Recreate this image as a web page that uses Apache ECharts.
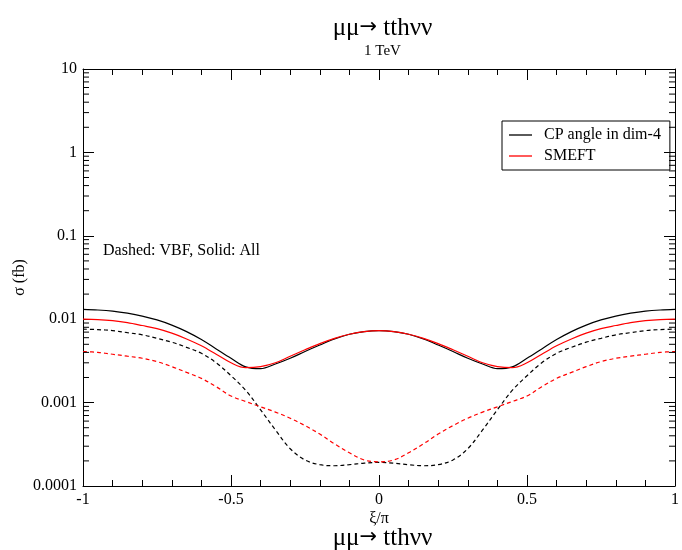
<!DOCTYPE html>
<html>
<head>
<meta charset="utf-8">
<script src="https://cdn.jsdelivr.net/npm/echarts@6/dist/echarts.min.js"></script>
<style>html,body{margin:0;padding:0;background:#fff}#c{width:682px;height:550px}</style>
</head>
<body>
<div id="c"></div>
<script>
const xi = [-1,-0.95,-0.9,-0.85,-0.8,-0.75,-0.7,-0.65,-0.6,-0.55,-0.5,-0.45,-0.4,-0.35,-0.3,-0.25,-0.2,-0.15,-0.1,-0.05,0,
  0.05,0.1,0.15,0.2,0.25,0.3,0.35,0.4,0.45,0.5,0.55,0.6,0.65,0.7,0.75,0.8,0.85,0.9,0.95,1];
const cpAll = [0.0131,0.0129,0.0125,0.0118,0.0109,0.0098,0.0085,0.0071,0.0057,0.0044,0.0034,0.00268,0.00255,0.0029,0.0034,0.0041,0.0049,0.0058,0.0066,0.0071,0.0073,
  0.0071,0.0066,0.0058,0.0049,0.0041,0.0034,0.0029,0.00255,0.00268,0.0034,0.0044,0.0057,0.0071,0.0085,0.0098,0.0109,0.0118,0.0125,0.0129,0.0131];
const smeftAll = [0.0100,0.0099,0.0096,0.0091,0.0084,0.0077,0.0068,0.0058,0.0048,0.0038,0.0030,0.00262,0.0027,0.0030,0.0036,0.0043,0.0051,0.0059,0.0066,0.0071,0.0073,
  0.0071,0.0066,0.0059,0.0051,0.0043,0.0036,0.0030,0.0027,0.00262,0.0030,0.0038,0.0048,0.0058,0.0068,0.0077,0.0084,0.0091,0.0096,0.0099,0.0100];
const cpVBF = [0.0076,0.0075,0.0073,0.0069,0.0065,0.0059,0.0053,0.0046,0.0039,0.0030,0.0021,0.0014,0.00082,0.00047,0.00028,0.000205,0.00018,0.000175,0.00018,0.000188,0.000192,
  0.000188,0.00018,0.000175,0.00018,0.000205,0.00028,0.00047,0.00082,0.0014,0.0021,0.0030,0.0039,0.0046,0.0053,0.0059,0.0065,0.0069,0.0073,0.0075,0.0076];
const smeftVBF = [0.0041,0.0040,0.0038,0.0036,0.0034,0.0031,0.0027,0.0023,0.00195,0.00155,0.00120,0.00103,0.00089,0.00077,0.00065,0.00053,0.00042,0.00032,0.00025,0.000205,0.000195,
  0.000205,0.00025,0.00032,0.00042,0.00053,0.00065,0.00077,0.00089,0.00103,0.00120,0.00155,0.00195,0.0023,0.0027,0.0031,0.0034,0.0036,0.0038,0.0040,0.0041];
const yTickLabels = ['0.0001','0.001','0.01','0.1','1','10'];
const xTickLabels = {'-1':'-1','-0.5':'-0.5','0':'0','0.5':'0.5','1':'1'};
const seriesNames = ['CP angle in dim-4','SMEFT'];
const titleParts = ['μμ', '→', ' tthνν'];
const subtitleText = '1 TeV';
const noteText = 'Dashed: VBF, Solid: All';

const FONT = 'Liberation Serif';
const pairs = v => xi.map((x,i)=>[x, v[i]]);
const minorVals = [];
for (let k=-4;k<=0;k++) for (let m=2;m<=9;m++) minorVals.push(+(m*Math.pow(10,k)).toPrecision(3));

const chart = echarts.init(document.getElementById('c'));
const lineSeries = (name, data, color, dashed) => ({
  name, type:'line', data: pairs(data), symbol:'none', smooth:0.35,
  lineStyle:{color, width:1.2, type: dashed ? [4,3] : 'solid'}, itemStyle:{color},
  xAxisIndex:0, yAxisIndex:0, z:3
});
const titleRich = {
  a:{fontFamily:FONT, fontSize:25, color:'#000', lineHeight:28},
  b:{fontFamily:'DejaVu Sans', fontSize:21, color:'#000', lineHeight:28}
};
const titleStr = `{a|${titleParts[0]}}{b|${titleParts[1]}}{a|${titleParts[2]}}`;
const titleEl = y => ({type:'text', x:382.5, y, style:{text:titleStr, rich:titleRich, align:'center', verticalAlign:'middle'}});
chart.setOption({
  animation:false,
  backgroundColor:'#fff',
  legend:{
    data:seriesNames, orient:'vertical', left:502, top:121, icon:'rect',
    borderColor:'#000', borderWidth:1, padding:[6,9,6,7], itemGap:5,
    itemWidth:23, itemHeight:1.3,
    textStyle:{fontFamily:FONT, fontSize:16, color:'#000', padding:[0,0,0,7]}
  },
  graphic:[
    titleEl(28),
    {type:'text', x:382.5, y:51, style:{text:subtitleText, font:'15px "Liberation Serif"', fill:'#000', align:'center', verticalAlign:'middle'}},
    titleEl(538),
    {type:'text', left:103, top:243, style:{text:noteText, font:'16px "Liberation Serif"', fill:'#000'}}
  ],
  grid:{left:83, right:1, top:69, bottom:64, containLabel:false},
  xAxis:[
    {type:'value', min:-1, max:1, interval:0.5, position:'bottom',
     name:'ξ/π', nameLocation:'middle', nameGap:25, nameMoveOverlap:false,
     nameTextStyle:{fontFamily:FONT, fontSize:16, color:'#000'},
     axisLine:{show:true, onZero:false, lineStyle:{color:'#000', width:1}},
     axisTick:{show:true, inside:true, length:11, lineStyle:{color:'#000'}},
     minorTick:{show:true, splitNumber:5, length:6, lineStyle:{color:'#000'}},
     splitLine:{show:false},
     axisLabel:{fontFamily:FONT, fontSize:16, color:'#000', margin:6, formatter:v=>xTickLabels[String(v)] ?? String(v)}},
    {type:'value', min:-1, max:1, interval:0.5, position:'top',
     axisLine:{show:true, onZero:false, lineStyle:{color:'#000', width:1}},
     axisTick:{show:true, inside:true, length:11, lineStyle:{color:'#000'}},
     minorTick:{show:true, splitNumber:5, length:6, lineStyle:{color:'#000'}},
     splitLine:{show:false}, axisLabel:{show:false}}
  ],
  yAxis:[
    {type:'log', logBase:10, min:0.0001, max:10, interval:1, position:'left',
     name:'σ (fb)', nameLocation:'middle', nameGap:55, nameRotate:90, nameMoveOverlap:false,
     nameTextStyle:{fontFamily:FONT, fontSize:16, color:'#000'},
     axisLine:{show:true, onZero:false, lineStyle:{color:'#000', width:1}},
     axisTick:{show:true, inside:true, length:11, lineStyle:{color:'#000'}},
     splitLine:{show:false},
     axisLabel:{fontFamily:FONT, fontSize:16, color:'#000', margin:6,
       formatter:v=>yTickLabels[Math.round(Math.log10(v))+4]}},
    {type:'log', logBase:10, min:0.0001, max:10, interval:1, position:'right',
     axisLine:{show:true, onZero:false, lineStyle:{color:'#000', width:1}},
     axisTick:{show:true, inside:true, length:11, lineStyle:{color:'#000'}},
     splitLine:{show:false}, axisLabel:{show:false}}
  ],
  series:[
    lineSeries(seriesNames[0], cpAll, '#000', false),
    lineSeries(seriesNames[1], smeftAll, '#f00', false),
    lineSeries(seriesNames[0]+' VBF', cpVBF, '#000', true),
    lineSeries(seriesNames[1]+' VBF', smeftVBF, '#f00', true),
    {type:'custom', name:'minor', silent:true, clip:false, xAxisIndex:0, yAxisIndex:0, z:5,
     data: minorVals.map(v=>[-1, v]),
     renderItem:(params, api)=>{
       const v = api.value(1);
       const pL = api.coord([-1, v]);
       const pR = api.coord([1, v]);
       return {type:'group', children:[
         {type:'line', shape:{x1:pL[0], y1:pL[1], x2:pL[0]+6, y2:pL[1]}, style:{stroke:'#000', lineWidth:1}},
         {type:'line', shape:{x1:pR[0], y1:pR[1], x2:pR[0]-6, y2:pR[1]}, style:{stroke:'#000', lineWidth:1}}
       ]};
     }}
  ]
});
</script>
</body>
</html>
